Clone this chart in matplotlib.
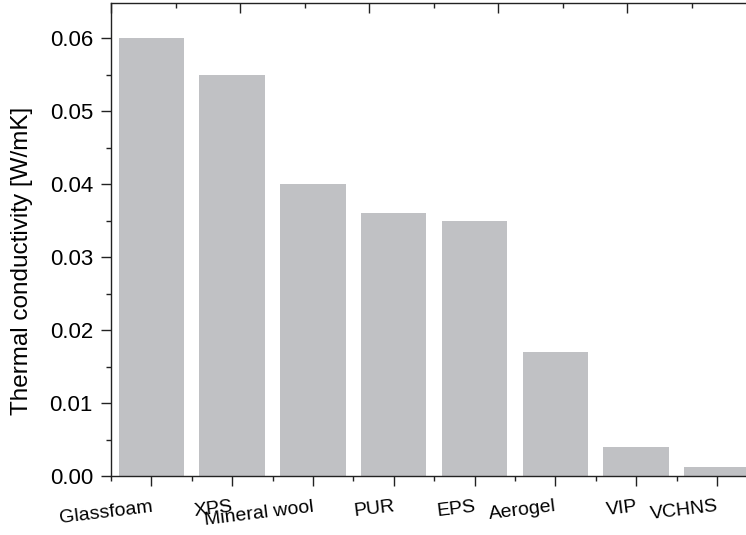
import matplotlib
matplotlib.use("Agg")
import matplotlib.pyplot as plt
from matplotlib.ticker import MultipleLocator, FixedLocator

categories = ["Glassfoam", "XPS", "Mineral wool", "PUR", "EPS", "Aerogel", "VIP", "VCHNS"]
conductivity = [0.060, 0.055, 0.040, 0.036, 0.035, 0.017, 0.004, 0.0012]
y_ticks = [0.00, 0.01, 0.02, 0.03, 0.04, 0.05, 0.06]
y_tick_labels = ["0.00", "0.01", "0.02", "0.03", "0.04", "0.05", "0.06"]

plt.rcParams['font.family'] = ['Liberation Sans', 'DejaVu Sans']

fig = plt.figure(figsize=(7.46, 5.35), dpi=100)
ax = fig.add_axes([111/746, 59/535, 1 - 111/746, (476 - 3)/535])

x = list(range(len(categories)))
ax.bar(x, conductivity, width=0.81, color="#c0c1c4", edgecolor="none", zorder=1)

ax.set_xlim(-0.5, 7.36)
ax.set_ylim(0, 0.0648)

ax.set_yticks(y_ticks)
ax.set_yticklabels(y_tick_labels, fontsize=16)
ax.yaxis.set_minor_locator(MultipleLocator(0.005))

ax.set_xticks(x)
ax.set_xticklabels(categories, fontsize=14, rotation=7, ha='right', rotation_mode='anchor')
ax.xaxis.set_minor_locator(FixedLocator([i - 0.5 for i in range(len(categories) + 1)]))

ax.tick_params(axis='both', which='major', direction='out', length=7, width=1.0, color='#222222')
ax.tick_params(axis='both', which='minor', direction='out', length=3.5, width=1.0, color='#222222')
ax.tick_params(axis='x', which='major', pad=9)
ax.tick_params(axis='y', which='major', pad=6)

for s in ['left', 'bottom', 'top']:
    ax.spines[s].set_linewidth(1.0)
    ax.spines[s].set_color('#222222')
ax.spines['right'].set_visible(False)

ax.set_ylabel("Thermal conductivity [W/mK]", fontsize=17.5)
ax.yaxis.set_label_coords(-0.123, 0.4545)

# top axis with its own tick spacing
axt = ax.twiny()
axt.set_xlim(0, 635)
axt.xaxis.set_major_locator(MultipleLocator(129))
axt.xaxis.set_minor_locator(MultipleLocator(64.5))
axt.tick_params(axis='x', which='major', direction='in', length=7, width=1.0, color='#222222', labeltop=False)
axt.tick_params(axis='x', which='minor', direction='in', length=3.5, width=1.0, color='#222222')
for s in axt.spines.values():
    s.set_visible(False)

fig.savefig("out.png", dpi=100)
